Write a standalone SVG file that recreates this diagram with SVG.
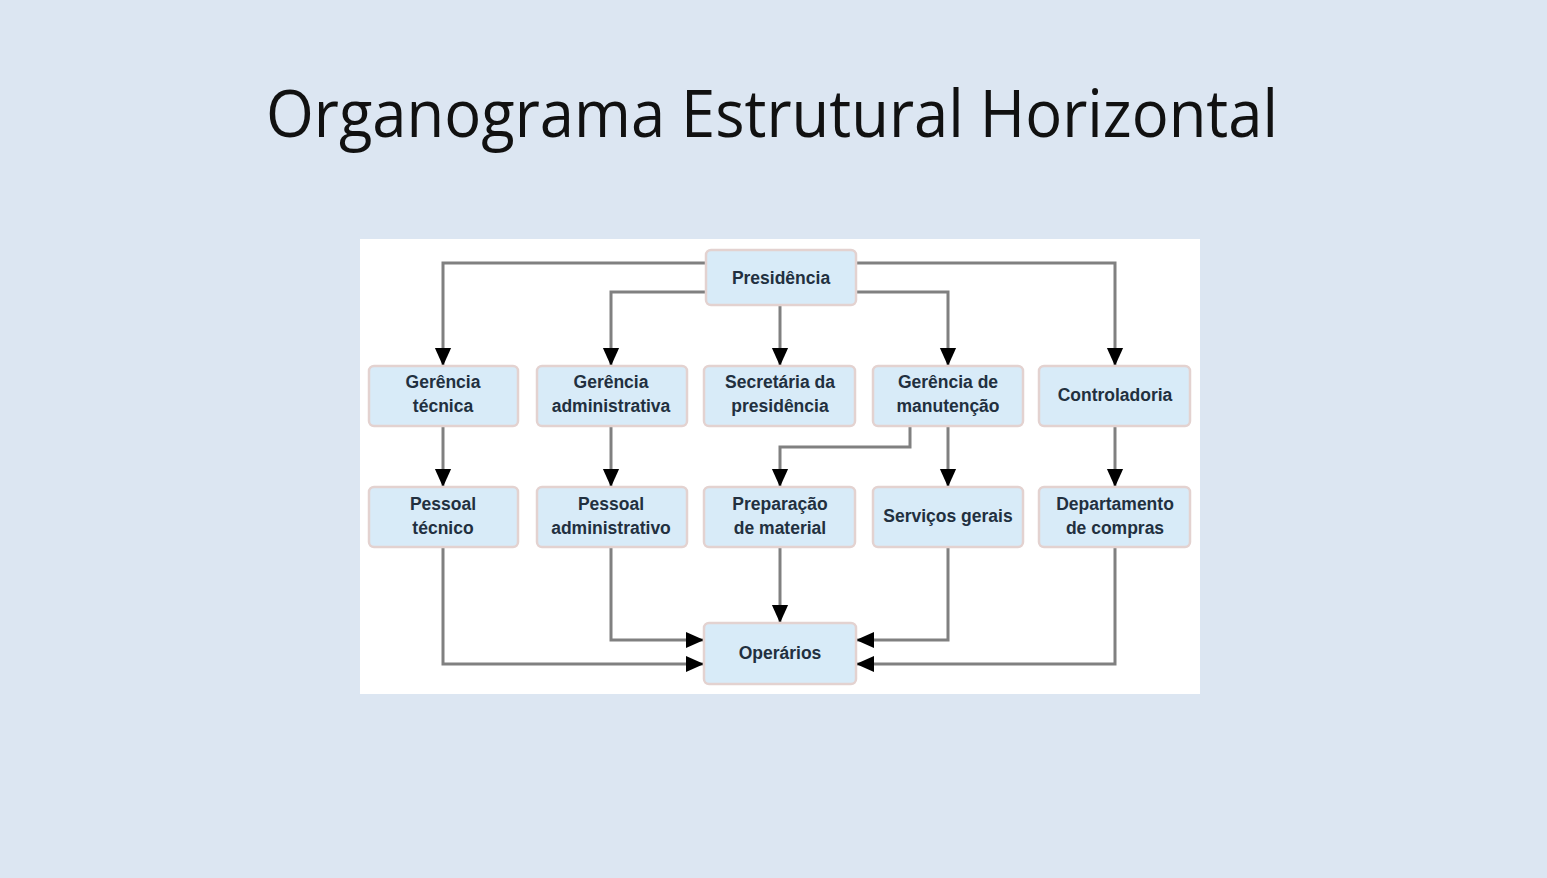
<svg xmlns="http://www.w3.org/2000/svg" width="1547" height="878" viewBox="0 0 1547 878">
<defs>
<style>
.node rect{fill:#d8ebf8;stroke:#e3d2d0;stroke-width:2.5}
.node text{font-family:"Liberation Sans",Arial,sans-serif;font-weight:bold;font-size:17.5px;fill:#22303f;text-anchor:middle}
.edge{fill:none;stroke:#808080;stroke-width:3;marker-end:url(#ah)}
.title{font-family:"Open Sans","Liberation Sans",sans-serif;font-size:66px;fill:#111111}
</style>
<marker id="ah" markerUnits="userSpaceOnUse" markerWidth="18" markerHeight="22" viewBox="0 0 20 18" refX="20" refY="9" orient="auto">
<path d="M0,0 L20,9 L0,18 Z" fill="#000"/>
</marker>
</defs>
<rect x="0" y="0" width="1547" height="878" fill="#dce6f2"/>
<text class="title" x="772" y="137" text-anchor="middle" textLength="1012" lengthAdjust="spacingAndGlyphs">Organograma Estrutural Horizontal</text>
<rect x="360" y="239" width="840" height="455" fill="#ffffff"/>
<g id="connectors">
<path class="edge" d="M706,263 H443 V366"/>
<path class="edge" d="M706,292 H611 V366"/>
<path class="edge" d="M780,305 V366"/>
<path class="edge" d="M856,292 H948 V366"/>
<path class="edge" d="M856,263 H1115 V366"/>
<path class="edge" d="M443,426 V487"/>
<path class="edge" d="M611,426 V487"/>
<path class="edge" d="M910,426 V447 H780 V487"/>
<path class="edge" d="M948,426 V487"/>
<path class="edge" d="M1115,426 V487"/>
<path class="edge" d="M443,547 V664 H704"/>
<path class="edge" d="M611,547 V640 H704"/>
<path class="edge" d="M780,547 V623"/>
<path class="edge" d="M948,547 V640 H856"/>
<path class="edge" d="M1115,547 V664 H856"/>
</g>
<g id="n-presidencia" class="node"><rect x="706" y="250" width="150" height="55" rx="5"/><text x="781" y="284">Presidência</text></g>
<g id="n-gerencia-tecnica" class="node"><rect x="369" y="366" width="149" height="60" rx="5"/><text x="443" y="388">Gerência</text><text x="443" y="412">técnica</text></g>
<g id="n-gerencia-administrativa" class="node"><rect x="537" y="366" width="150" height="60" rx="5"/><text x="611" y="388">Gerência</text><text x="611" y="412">administrativa</text></g>
<g id="n-secretaria" class="node"><rect x="704" y="366" width="151" height="60" rx="5"/><text x="780" y="388">Secretária da</text><text x="780" y="412">presidência</text></g>
<g id="n-gerencia-manutencao" class="node"><rect x="873" y="366" width="150" height="60" rx="5"/><text x="948" y="388">Gerência de</text><text x="948" y="412">manutenção</text></g>
<g id="n-controladoria" class="node"><rect x="1039" y="366" width="151" height="60" rx="5"/><text x="1115" y="401">Controladoria</text></g>
<g id="n-pessoal-tecnico" class="node"><rect x="369" y="487" width="149" height="60" rx="5"/><text x="443" y="510">Pessoal</text><text x="443" y="534">técnico</text></g>
<g id="n-pessoal-administrativo" class="node"><rect x="537" y="487" width="150" height="60" rx="5"/><text x="611" y="510">Pessoal</text><text x="611" y="534">administrativo</text></g>
<g id="n-preparacao" class="node"><rect x="704" y="487" width="151" height="60" rx="5"/><text x="780" y="510">Preparação</text><text x="780" y="534">de material</text></g>
<g id="n-servicos" class="node"><rect x="873" y="487" width="150" height="60" rx="5"/><text x="948" y="522">Serviços gerais</text></g>
<g id="n-departamento" class="node"><rect x="1039" y="487" width="151" height="60" rx="5"/><text x="1115" y="510">Departamento</text><text x="1115" y="534">de compras</text></g>
<g id="n-operarios" class="node"><rect x="704" y="623" width="152" height="61" rx="5"/><text x="780" y="659">Operários</text></g>
</svg>
